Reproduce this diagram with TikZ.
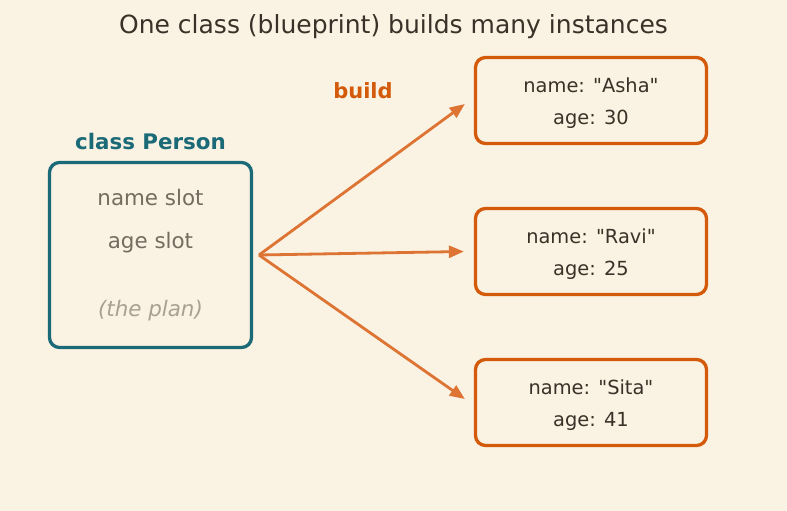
\documentclass[tikz,border=0pt]{standalone}
\usepackage{fontspec}
\setmainfont{DejaVu Sans}[Ligatures=TeXOff]
\usetikzlibrary{arrows.meta,positioning}
\definecolor{paper}{HTML}{FAF2E3}
\definecolor{ink}{HTML}{3B3128}
\definecolor{teal}{HTML}{1B6A78}
\definecolor{rust}{HTML}{D35A0A}
\definecolor{arrowc}{HTML}{DD7433}
\definecolor{slotc}{HTML}{756B60}
\definecolor{planc}{HTML}{A9A093}

\begin{document}
\begin{tikzpicture}[x=1pt,y=-1pt,
  txt/.style={inner sep=0pt,font=\fontsize{21.4}{25}\selectfont},
  fieldtxt/.style={txt,text=ink,font=\fontsize{19.4}{23}\selectfont},
  classbox/.style={draw=teal,line width=3.3pt,rounded corners=10pt,minimum width=202pt,minimum height=185pt},
  instbox/.style={draw=rust,line width=3.3pt,rounded corners=10pt,minimum width=231pt,minimum height=86pt},
  buildarrow/.style={draw=arrowc,line width=2.8pt,-{Triangle[length=15pt,width=12pt]}}]
\fill[paper] (0,0) rectangle (787,511);
\useasboundingbox (0,0) rectangle (787,511);
% title
\node[txt,text=ink,font=\fontsize{25}{30}\selectfont] (title) at (393.5,27) {One class (blueprint) builds many instances};
% the class
\node[classbox] (cls) at (150.5,255) {};
\node[txt,text=teal,font=\fontsize{21.4}{25}\selectfont\bfseries] (clsname) at (150.5,142) {class Person};
\node[txt,text=slotc] (nameslot) at (150.5,198) {name slot};
\node[txt,text=slotc] (ageslot) at (150.5,243) {age slot};
\node[txt,text=planc,font=\fontsize{21.4}{25}\selectfont\itshape] (plan) at (150.5,311) {(the plan)};
% the instances
\node[instbox] (asha) at (591,100.5) {};
\node[fieldtxt] (asha-n) at (591,85) {name: "Asha"};
\node[fieldtxt] (asha-a) at (591,119.5) {age: 30};
\node[instbox] (ravi) at (591,251.5) {};
\node[fieldtxt] (ravi-n) at (591,236) {name: "Ravi"};
\node[fieldtxt] (ravi-a) at (591,270.5) {age: 25};
\node[instbox] (sita) at (591,402.5) {};
\node[fieldtxt] (sita-n) at (591,387) {name: "Sita"};
\node[fieldtxt] (sita-a) at (591,421.5) {age: 41};
% arrows
\node[txt,text=rust,font=\fontsize{21}{25}\selectfont\bfseries] (build) at (363,91) {build};
\coordinate (fork) at (259,255);
\draw[buildarrow] (fork) -- ([xshift=-9pt,yshift=-3.5pt]asha.west);
\draw[buildarrow] (fork) -- ([xshift=-10pt]ravi.west);
\draw[buildarrow] (fork) -- ([xshift=-9pt,yshift=3.5pt]sita.west);
\end{tikzpicture}
\end{document}
